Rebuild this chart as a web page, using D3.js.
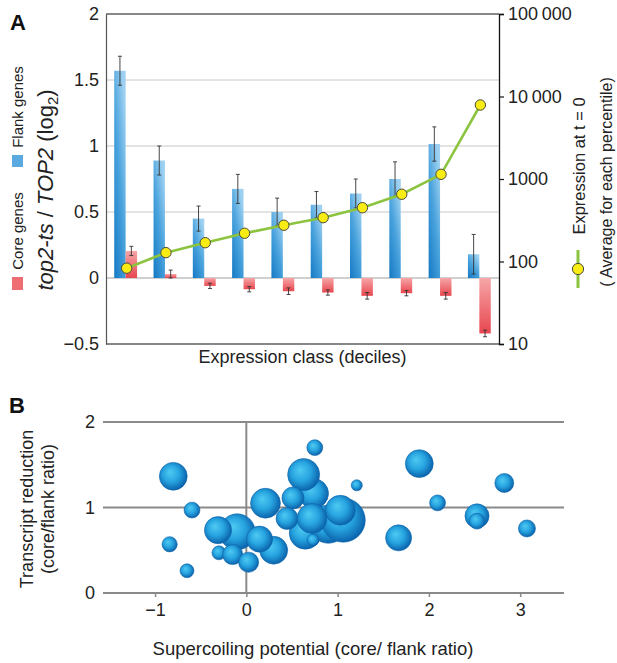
<!DOCTYPE html>
<html>
<head>
<meta charset="utf-8">
<script src="https://cdn.jsdelivr.net/npm/d3@7"></script>
<style>
  body { margin: 0; background: #fff; }
  svg { font-family: "Liberation Sans", Arial, sans-serif; }
</style>
</head>
<body>
<div id="chart"></div>
<script>
// Panel A: expression deciles
const deciles = ["1", "2", "3", "4", "5", "6", "7", "8", "9", "10"];
const flankMean = [1.57, 0.89, 0.45, 0.675, 0.50, 0.555, 0.64, 0.75, 1.015, 0.18];
const flankErr = [0.11, 0.11, 0.095, 0.11, 0.105, 0.10, 0.11, 0.13, 0.13, 0.15];
const coreMean = [0.205, 0.03, -0.06, -0.085, -0.10, -0.11, -0.135, -0.115, -0.135, -0.42];
const coreErr = [0.035, 0.03, 0.02, 0.02, 0.025, 0.02, 0.025, 0.02, 0.025, 0.025];
const expression = [83, 128, 169, 220, 275, 340, 449, 653, 1140, 7890];
const leftTicks = [-0.5, 0, 0.5, 1, 1.5, 2];
const rightTicks = [10, 100, 1000, 10000, 100000];

// Panel B: bubbles (supercoiling, transcript reduction, size)
const bubX = [-0.80, -0.595, -0.84, -0.65, -0.10, -0.31, -0.30, -0.15, 0.025, 0.30, 0.145, 0.21,
  0.646, 0.737, 0.628, 0.511, 0.446, 0.898, 1.062, 1.03, 0.72, 0.73, 0.75, 1.21,
  1.895, 2.095, 1.668, 2.826, 2.527, 2.527, 3.074];
const bubY = [1.365, 0.97, 0.57, 0.26, 0.715, 0.735, 0.47, 0.45, 0.36, 0.50, 0.63, 1.05,
  0.70, 1.163, 1.385, 1.112, 0.872, 0.805, 0.852, 0.968, 0.872, 0.62, 1.70, 1.26,
  1.513, 1.054, 0.645, 1.287, 0.902, 0.84, 0.755];
const bubSize = [40, 13, 12, 10, 67, 38, 10, 21, 21, 40, 35, 46,
  53, 46, 53, 25, 25, 75, 100, 46, 46, 7.4, 13, 6.3,
  40, 13, 35, 18.6, 30, 13, 15];
const bTicksX = [-1, 0, 1, 2, 3];
const bTicksY = [0, 1, 2];

const W = 617, H = 663;
const svg = d3.select("#chart").append("svg")
  .attr("width", W).attr("height", H);

const defs = svg.append("defs");
const gBlue = defs.append("linearGradient").attr("id", "gBlue")
  .attr("x1", 0).attr("y1", 1).attr("x2", 0.7).attr("y2", 0);
gBlue.append("stop").attr("offset", "0%").attr("stop-color", "#1479c4");
gBlue.append("stop").attr("offset", "55%").attr("stop-color", "#4aa3dd");
gBlue.append("stop").attr("offset", "100%").attr("stop-color", "#9dd0f1");

const gRed = defs.append("linearGradient").attr("id", "gRed")
  .attr("x1", 0).attr("y1", 0).attr("x2", 0).attr("y2", 1);
gRed.append("stop").attr("offset", "0%").attr("stop-color", "#f6a6a8");
gRed.append("stop").attr("offset", "100%").attr("stop-color", "#e8464f");

const gBub = defs.append("radialGradient").attr("id", "gBub")
  .attr("cx", "45%").attr("cy", "45%").attr("r", "55%")
  .attr("fx", "38%").attr("fy", "35%");
gBub.append("stop").attr("offset", "0%").attr("stop-color", "#4fcaf2");
gBub.append("stop").attr("offset", "55%").attr("stop-color", "#27a4e0");
gBub.append("stop").attr("offset", "100%").attr("stop-color", "#0b64ad");

// ---------- Panel A ----------
const ax0 = 106, ax1 = 499, ayTop = 14, ayBot = 344;
const x = d3.scaleBand(deciles, [ax0, ax1]);
const xs = d3.scaleBand(["flank", "core"], [0, x.bandwidth()]).paddingOuter(0.72);
const y = d3.scaleLinear([-0.5, 2], [ayBot, ayTop]);
const yR = d3.scaleLog([10, 100000], [ayBot, ayTop]);

const A = svg.append("g");

// grid lines
A.append("g").selectAll("line")
  .data([0.5, 1, 1.5])
  .join("line")
  .attr("x1", ax0).attr("x2", ax1)
  .attr("y1", d => y(d)).attr("y2", d => y(d))
  .attr("stroke", "#c8c8c8").attr("stroke-width", 1);
A.append("line")
  .attr("x1", ax0).attr("x2", ax1)
  .attr("y1", y(0)).attr("y2", y(0))
  .attr("stroke", "#a0a0a0").attr("stroke-width", 1);

// frame top/bottom
A.append("line").attr("x1", ax0).attr("x2", ax1).attr("y1", ayTop).attr("y2", ayTop)
  .attr("stroke", "#111").attr("stroke-width", 1.2);
A.append("line").attr("x1", ax0).attr("x2", ax1).attr("y1", ayBot).attr("y2", ayBot)
  .attr("stroke", "#111").attr("stroke-width", 1.2);

// flank bars
A.append("g").selectAll("rect")
  .data(deciles)
  .join("rect")
  .attr("x", (d, i) => x(d) + xs("flank"))
  .attr("y", (d, i) => y(Math.max(0, flankMean[i])))
  .attr("width", xs.bandwidth())
  .attr("height", (d, i) => Math.abs(y(flankMean[i]) - y(0)))
  .attr("fill", "url(#gBlue)");

// core bars
A.append("g").selectAll("rect")
  .data(deciles)
  .join("rect")
  .attr("x", (d, i) => x(d) + xs("core"))
  .attr("y", (d, i) => y(Math.max(0, coreMean[i])))
  .attr("width", xs.bandwidth())
  .attr("height", (d, i) => Math.abs(y(coreMean[i]) - y(0)))
  .attr("fill", "url(#gRed)");

// error bars
function errBars(means, errs, key) {
  const g = A.append("g").attr("stroke", "#333").attr("stroke-width", 0.9);
  deciles.forEach((d, i) => {
    const cx = x(d) + xs(key) + xs.bandwidth() / 2;
    const lo = y(means[i] - errs[i]), hi = y(means[i] + errs[i]);
    g.append("line").attr("x1", cx).attr("x2", cx).attr("y1", lo).attr("y2", hi);
    g.append("line").attr("x1", cx - 2).attr("x2", cx + 2).attr("y1", lo).attr("y2", lo);
    g.append("line").attr("x1", cx - 2).attr("x2", cx + 2).attr("y1", hi).attr("y2", hi);
  });
}
errBars(flankMean, flankErr, "flank");
errBars(coreMean, coreErr, "core");

// expression line
const line = d3.line()
  .x((d, i) => x(deciles[i]) + x.bandwidth() / 2 + 1)
  .y(d => yR(d));
A.append("path")
  .datum(expression)
  .attr("d", line)
  .attr("fill", "none")
  .attr("stroke", "#8cc43f")
  .attr("stroke-width", 2.6);
A.append("g").selectAll("circle")
  .data(expression)
  .join("circle")
  .attr("cx", (d, i) => x(deciles[i]) + x.bandwidth() / 2 + 1)
  .attr("cy", d => yR(d))
  .attr("r", 5.2)
  .attr("fill", "#f8ec14")
  .attr("stroke", "#4a4a3a")
  .attr("stroke-width", 1);

// left axis
const yAxis = d3.axisLeft(y).tickValues(leftTicks).tickSize(0).tickPadding(7)
  .tickFormat(d => d < 0 ? "\u2212" + Math.abs(d) : String(d));
A.append("g")
  .attr("transform", `translate(${ax0},0)`)
  .call(yAxis)
  .call(g => g.select(".domain").attr("stroke", "#555").attr("stroke-width", 1.2))
  .call(g => g.selectAll("text").attr("font-size", 18).attr("fill", "#222")
    .attr("font-family", "Liberation Sans, Arial, sans-serif"));

// right axis
const yRAxis = d3.axisRight(yR).tickValues(rightTicks).tickSize(5).tickPadding(4)
  .tickFormat(d => d >= 10000 ? d3.format(",")(d).replace(",", "\u2009") : String(d));
A.append("g")
  .attr("transform", `translate(${ax1},0)`)
  .call(yRAxis)
  .call(g => g.select(".domain").attr("stroke", "#111").attr("stroke-width", 1.3))
  .call(g => g.selectAll(".tick line").attr("stroke", "#111").attr("stroke-width", 1.2))
  .call(g => g.selectAll("text").attr("font-size", 18).attr("fill", "#222")
    .attr("font-family", "Liberation Sans, Arial, sans-serif"));

// x label
A.append("text")
  .attr("x", (ax0 + ax1) / 2).attr("y", 363)
  .attr("text-anchor", "middle")
  .attr("font-size", 18).attr("fill", "#222")
  .text("Expression class (deciles)");

// panel letter
svg.append("text").attr("x", 10).attr("y", 30)
  .attr("font-size", 22).attr("font-weight", "bold").attr("fill", "#111")
  .text("A");

// left legend: flank / core
A.append("rect").attr("x", 12).attr("y", 155).attr("width", 11).attr("height", 12)
  .attr("fill", "#5aa9e0");
A.append("text")
  .attr("transform", "translate(23,107) rotate(-90)")
  .attr("text-anchor", "middle").attr("font-size", 15).attr("fill", "#222")
  .text("Flank genes");
A.append("rect").attr("x", 12).attr("y", 277).attr("width", 11).attr("height", 13)
  .attr("fill", "#ee6e74");
A.append("text")
  .attr("transform", "translate(23,231) rotate(-90)")
  .attr("text-anchor", "middle").attr("font-size", 15).attr("fill", "#222")
  .text("Core genes");

// y title
const yt = A.append("text")
  .attr("transform", "translate(53,190) rotate(-90)")
  .attr("text-anchor", "middle").attr("font-size", 22).attr("fill", "#222");
yt.append("tspan").attr("font-style", "italic").text("top2-ts");
yt.append("tspan").text(" / ");
yt.append("tspan").attr("font-style", "italic").text("TOP2");
yt.append("tspan").text(" (log");
yt.append("tspan").attr("font-size", 15).attr("dy", 5).text("2");
yt.append("tspan").attr("dy", -5).text(")");

// right legend: expression
A.append("line").attr("x1", 578).attr("x2", 578).attr("y1", 250).attr("y2", 288)
  .attr("stroke", "#8cc43f").attr("stroke-width", 3);
A.append("circle").attr("cx", 578).attr("cy", 269).attr("r", 5.6)
  .attr("fill", "#f8ec14").attr("stroke", "#4a4a3a").attr("stroke-width", 1);
A.append("text")
  .attr("transform", "translate(585,166) rotate(-90)")
  .attr("text-anchor", "middle").attr("font-size", 16.5).attr("fill", "#222")
  .text("Expression at t = 0");
A.append("text")
  .attr("transform", "translate(612,182) rotate(-90)")
  .attr("text-anchor", "middle").attr("font-size", 16).attr("fill", "#222")
  .text("( Average for each percentile)");

// ---------- Panel B ----------
const bx0 = 103, bx1 = 564;
const bx = d3.scaleLinear([-1.57, 3.48], [bx0, bx1]);
const by = d3.scaleLinear([0, 2], [593, 422]);
const br = d3.scaleSqrt([0, 100], [0, 22]);

const B = svg.append("g");

svg.append("text").attr("x", 9).attr("y", 413)
  .attr("font-size", 22).attr("font-weight", "bold").attr("fill", "#111")
  .text("B");

// horizontal grid lines
B.append("g").selectAll("line")
  .data(bTicksY)
  .join("line")
  .attr("x1", bx0).attr("x2", bx1)
  .attr("y1", d => by(d)).attr("y2", d => by(d))
  .attr("stroke", "#8a8a8a").attr("stroke-width", 2);
// vertical line at 0
B.append("line")
  .attr("x1", bx(0)).attr("x2", bx(0))
  .attr("y1", by(2)).attr("y2", by(0))
  .attr("stroke", "#8a8a8a").attr("stroke-width", 2);

// x axis
const bxAxis = d3.axisBottom(bx).tickValues(bTicksX).tickSize(4).tickPadding(6)
  .tickFormat(d => d < 0 ? "\u2212" + Math.abs(d) : String(d));
B.append("g")
  .attr("transform", `translate(0,${by(0)})`)
  .call(bxAxis)
  .call(g => g.select(".domain").remove())
  .call(g => g.selectAll(".tick line").attr("stroke", "#8a8a8a").attr("stroke-width", 1.5))
  .call(g => g.selectAll("text").attr("font-size", 18).attr("fill", "#222")
    .attr("font-family", "Liberation Sans, Arial, sans-serif"));

// y axis labels
const byAxis = d3.axisLeft(by).tickValues(bTicksY).tickSize(0).tickPadding(8)
  .tickFormat(d => String(d));
B.append("g")
  .attr("transform", `translate(${bx0},0)`)
  .call(byAxis)
  .call(g => g.select(".domain").remove())
  .call(g => g.selectAll("text").attr("font-size", 18).attr("fill", "#222")
    .attr("font-family", "Liberation Sans, Arial, sans-serif"));

// bubbles
B.append("g").selectAll("circle")
  .data(d3.range(bubX.length))
  .join("circle")
  .attr("cx", i => bx(bubX[i]))
  .attr("cy", i => by(bubY[i]))
  .attr("r", i => br(bubSize[i]))
  .attr("fill", "url(#gBub)")
  .attr("stroke", "#0f66ab")
  .attr("stroke-width", 0.6);

// labels
B.append("text")
  .attr("x", 313).attr("y", 655)
  .attr("text-anchor", "middle").attr("font-size", 18.5).attr("fill", "#222")
  .text("Supercoiling potential (core/ flank ratio)");
const byt = B.append("text")
  .attr("transform", "translate(33,509) rotate(-90)")
  .attr("text-anchor", "middle").attr("font-size", 18).attr("fill", "#222");
byt.append("tspan").attr("x", 0).attr("y", 0).text("Transcript reduction");
byt.append("tspan").attr("x", 0).attr("y", 21).text("(core/flank ratio)");
</script>
</body>
</html>
